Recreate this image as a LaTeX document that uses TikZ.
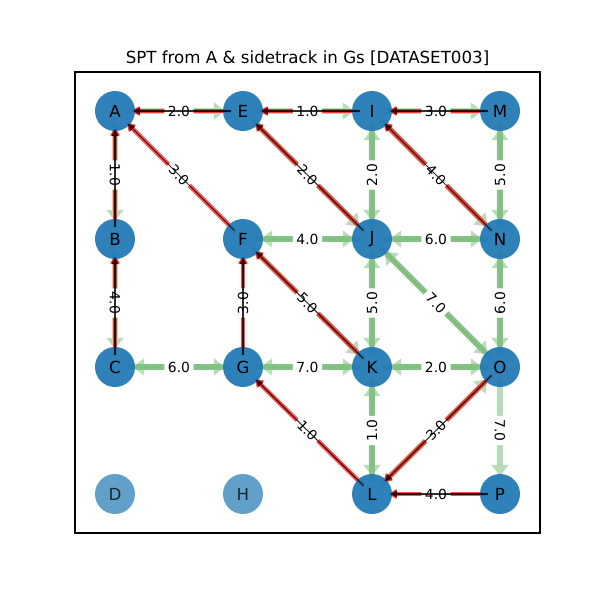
\documentclass[tikz,border=0pt]{standalone}
\usepackage{fontspec}
\setmainfont{DejaVu Sans}
\usetikzlibrary{arrows.meta}
\definecolor{tabblue}{HTML}{1F77B4}
\definecolor{mplgreen}{HTML}{008000}
% drawing layers: sidetrack edges, tree edges (wide), vertices, weights, tree arrows
\pgfdeclarelayer{gs}
\pgfdeclarelayer{spt}
\pgfdeclarelayer{lab}
\pgfdeclarelayer{tree}
\pgfsetlayers{gs,spt,main,lab,tree}

\begin{document}
\begin{tikzpicture}[x=0.72pt,y=-0.72pt,
  vtx/.style={circle, minimum size=28.8pt, inner sep=0pt, fill=tabblue,
    fill opacity=0.93, text opacity=1, font=\fontsize{12}{14}\selectfont},
  faint/.style={fill opacity=0.7, text opacity=0.75},
  gsedge/.style={draw=mplgreen, fill=mplgreen, opacity=0.28, line width=4.3pt,
    shorten <=8.6pt, shorten >=13pt,
    -{Triangle[length=8pt, width=12.5pt, line width=0pt]}},
  sptedge/.style={draw=red, fill=red, opacity=0.7, line width=3.2pt,
    shorten <=8.6pt, shorten >=12.5pt,
    -{Triangle[length=6pt, width=7.5pt, round, line width=1.2pt]}},
  treearrow/.style={draw=black, fill=black, opacity=0.8, line width=0.75pt,
    shorten <=8.6pt, shorten >=13pt,
    -{Triangle[length=5pt, width=4.5pt, line width=0pt]}},
  elabel/.style={fill=white, rounded corners=2.5pt, inner sep=2.6pt,
    font=\fontsize{10}{12}\selectfont},
]
\useasboundingbox (0,0) rectangle (600,600);

% title and axes frame
\node (title) at (307.5,58) {\fontsize{12}{14}\selectfont SPT from A \& sidetrack in Gs [DATASET003]};
\draw[line width=0.8pt] (75,72) rectangle (540,533);

% vertices
\node[vtx] (A) at (115,111) {A};
\node[vtx] (E) at (243,111) {E};
\node[vtx] (I) at (372,111) {I};
\node[vtx] (M) at (500,111) {M};
\node[vtx] (B) at (115,239) {B};
\node[vtx] (F) at (243,239) {F};
\node[vtx] (J) at (372,239) {J};
\node[vtx] (N) at (500,239) {N};
\node[vtx] (C) at (115,367) {C};
\node[vtx] (G) at (243,367) {G};
\node[vtx] (K) at (372,367) {K};
\node[vtx] (O) at (500,367) {O};
\node[vtx,faint] (D) at (115,494) {D};
\node[vtx,faint] (H) at (243,494) {H};
\node[vtx] (L) at (372,494) {L};
\node[vtx] (P) at (500,494) {P};

% sidetrack graph Gs (directed)
\begin{pgfonlayer}{gs}
\foreach \u/\v in {A/E, A/B, B/C, E/I, I/M, E/J, I/N, F/K, L/O, O/P,
                   C/G, G/C, I/J, J/I, M/N, N/M, F/J, J/F, J/N, N/J,
                   J/K, K/J, N/O, O/N, G/K, K/G, K/O, O/K, K/L, L/K, J/O, O/J}
  \draw[gsedge] (\u.center) -- (\v.center);
\end{pgfonlayer}

% shortest path tree from A (child -> parent)
\begin{pgfonlayer}{spt}
\foreach \u/\v in {E/A, B/A, C/B, I/E, M/I, J/E, N/I, F/A, G/F, K/F, L/G, O/L, P/L}
  \draw[sptedge] (\u.center) -- (\v.center);
\end{pgfonlayer}

% edge weights
\begin{pgfonlayer}{lab}
\foreach \u/\v/\w/\r in {A/E/2.0/0, E/I/1.0/0, I/M/3.0/0, A/B/1.0/-90, A/F/3.0/-45,
    E/J/2.0/-45, I/J/2.0/90, I/N/4.0/-45, M/N/5.0/90, B/C/4.0/-90, F/J/4.0/0,
    J/N/6.0/0, F/G/3.0/90, F/K/5.0/-45, J/K/5.0/90, J/O/7.0/-45, N/O/6.0/90,
    C/G/6.0/0, G/K/7.0/0, K/O/2.0/0, G/L/1.0/-45, K/L/1.0/90, O/L/3.0/45,
    O/P/7.0/-90, L/P/4.0/0}
  \path (\u) -- node[elabel, rotate=\r] {\w} (\v);
\end{pgfonlayer}

% tree arrows on top
\begin{pgfonlayer}{tree}
\foreach \u/\v in {E/A, B/A, C/B, I/E, M/I, J/E, N/I, F/A, G/F, K/F, L/G, O/L, P/L}
  \draw[treearrow] (\u.center) -- (\v.center);
\end{pgfonlayer}
\end{tikzpicture}
\end{document}
